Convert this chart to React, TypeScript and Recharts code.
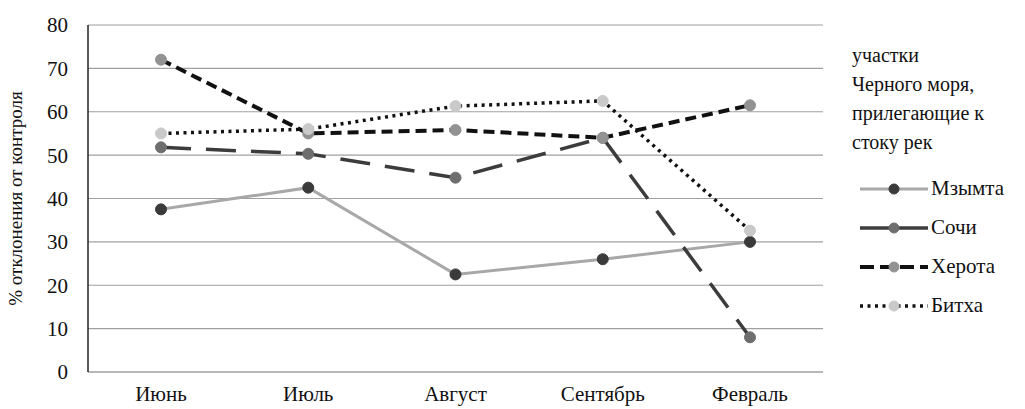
import { CartesianGrid, Line, LineChart, XAxis, YAxis } from 'recharts';

const months = ['Июнь', 'Июль', 'Август', 'Сентябрь', 'Февраль'];
const mzymta = [37.5, 42.5, 22.5, 26, 30];
const sochi = [51.8, 50.3, 44.8, 54, 8];
const kherota = [72, 55, 55.8, 54, 61.5];
const bitkha = [55, 56, 61.3, 62.5, 32.6];
const yTicks = [0, 10, 20, 30, 40, 50, 60, 70, 80];

const data = months.map((m, i) => ({
  month: m,
  mzymta: mzymta[i],
  sochi: sochi[i],
  kherota: kherota[i],
  bitkha: bitkha[i],
}));

const FONT = '"Times New Roman", "Liberation Serif", "DejaVu Serif", serif';

const series = [
  { key: 'mzymta', name: 'Мзымта', stroke: '#a8a8a8', dash: undefined, width: 3, dot: '#3a3a3a' },
  { key: 'sochi', name: 'Сочи', stroke: '#3c3c3c', dash: '30 15', width: 3.5, dot: '#6e6e6e' },
  { key: 'kherota', name: 'Херота', stroke: '#111111', dash: '11 6', width: 4, dot: '#929292' },
  { key: 'bitkha', name: 'Битха', stroke: '#111111', dash: '3 4.5', width: 3.5, dot: '#c9c9c9' },
];

// legend drawn beside the chart, same look as the original
function LegendBox() {
  return (
    <div style={{ fontFamily: FONT, fontSize: 20, color: '#111', lineHeight: '29px' }}>
      <div style={{ marginBottom: 12, whiteSpace: 'nowrap' }}>
        участки
        <br />
        Черного моря,
        <br />
        прилегающие к
        <br />
        стоку рек
      </div>
      {series.map((s) => (
        <div key={s.key} style={{ display: 'flex', alignItems: 'center', height: 39 }}>
          <svg width={76} height={12}>
            <line
              x1={8}
              y1={6}
              x2={76}
              y2={6}
              stroke={s.stroke}
              strokeWidth={s.width}
              strokeDasharray={s.key === 'sochi' ? undefined : s.key === 'kherota' ? '14 6' : s.dash}
            />
            <circle cx={42} cy={6} r={5} fill={s.dot} stroke={s.dot} />
          </svg>
          <span style={{ marginLeft: 3, fontSize: 21 }}>{s.name}</span>
        </div>
      ))}
    </div>
  );
}

export default function App() {
  return (
    <div style={{ position: 'absolute', left: 0, top: 0, width: 1025, height: 409, background: '#fff' }}>
      <LineChart
        width={1025}
        height={409}
        data={data}
        margin={{ top: 25, right: 202, bottom: 7, left: 0 }}
      >
        <CartesianGrid vertical={false} stroke="#a0a0a0" strokeWidth={1.2} />
        <XAxis
          dataKey="month"
          height={30}
          padding={{ left: 73, right: 73 }}
          axisLine={{ stroke: '#a0a0a0' }}
          tickLine={false}
          tickMargin={8}
          tick={{ fontFamily: FONT, fontSize: 21, fill: '#111' }}
        />
        <YAxis
          width={88}
          domain={[0, 80]}
          ticks={yTicks}
          axisLine={{ stroke: '#222', strokeWidth: 1.5 }}
          tickLine={false}
          tickMargin={14}
          tick={{ fontFamily: FONT, fontSize: 21, fill: '#111' }}
          label={{
            value: '% отклонения  от контроля',
            angle: -90,
            position: 'insideLeft',
            dx: 10,
            style: { fontFamily: FONT, fontSize: 19, fill: '#111', textAnchor: 'middle' },
          }}
        />
        {series.map((s) => (
          <Line
            key={s.key}
            dataKey={s.key}
            name={s.name}
            type="linear"
            stroke={s.stroke}
            strokeWidth={s.width}
            strokeDasharray={s.dash}
            dot={{ r: 5.5, fill: s.dot, stroke: s.dot, strokeWidth: 1, strokeDasharray: '' }}
            isAnimationActive={false}
          />
        ))}
      </LineChart>
      <div style={{ position: 'absolute', left: 852, top: 41, width: 173 }}>
        <LegendBox />
      </div>
    </div>
  );
}
